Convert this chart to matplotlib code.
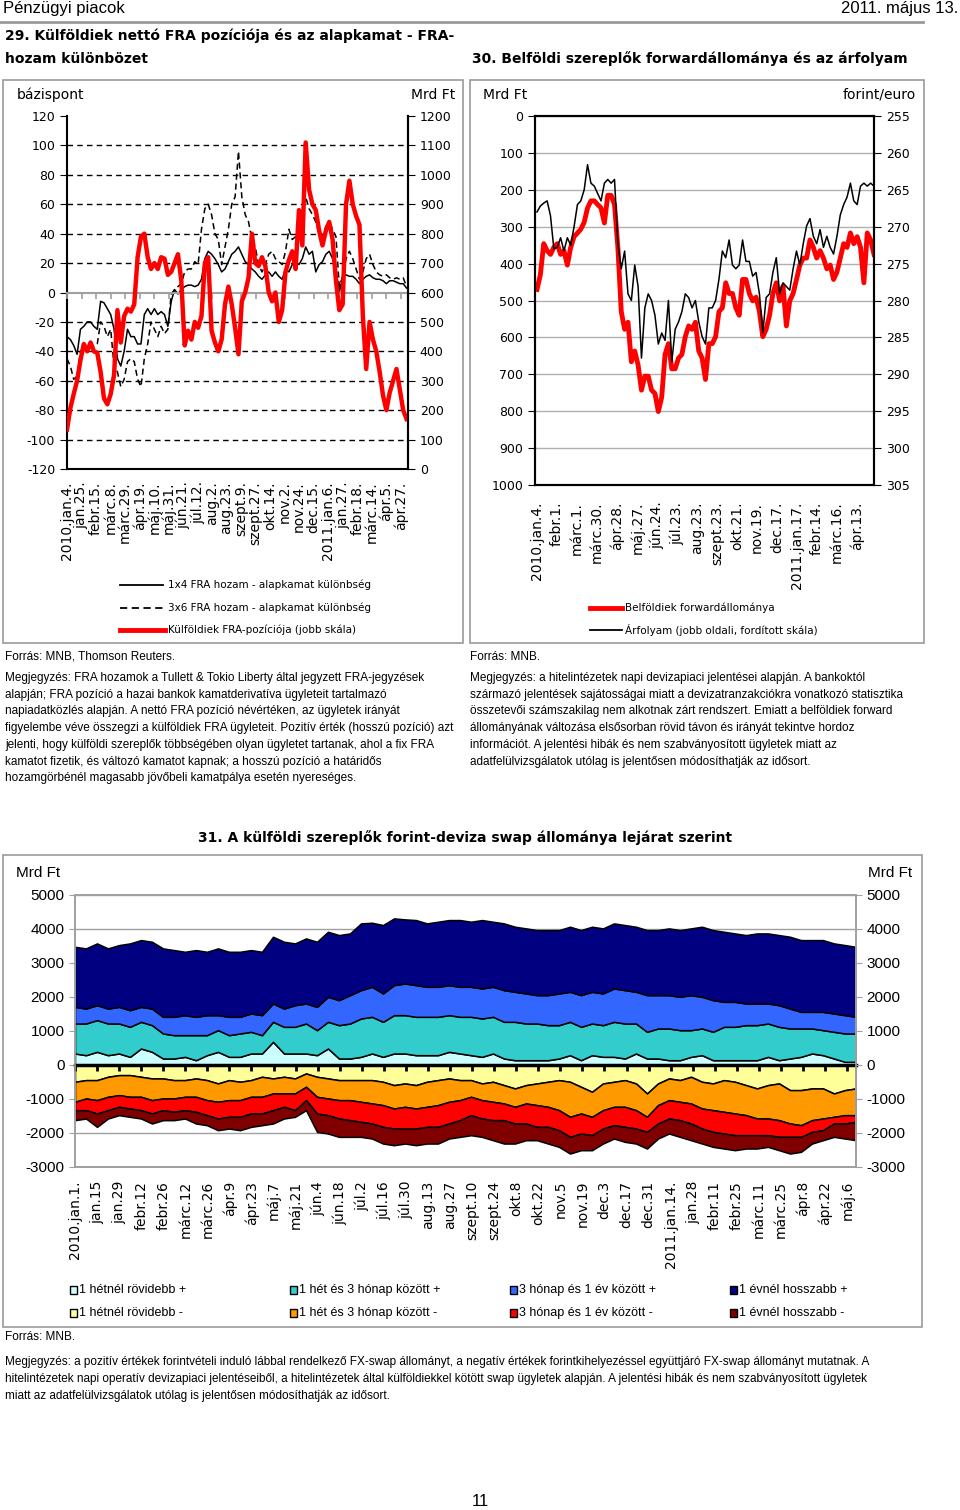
import numpy as np
import matplotlib
matplotlib.use('Agg')
import matplotlib.pyplot as plt
from matplotlib.lines import Line2D
from matplotlib.patches import Rectangle
from matplotlib import font_manager

plt.rcParams['axes.unicode_minus'] = False

# ---------------- data: chart 29 ----------------
c29_ticklabels = ['2010.jan.4.', 'jan.25.', 'febr.15.', 'márc.8.', 'márc.29.', 'ápr.19.',
                  'máj.10.', 'máj.31.', 'jún.21.', 'júl.12.', 'aug.2.', 'aug.23.', 'szept.9.',
                  'szept.27.', 'okt.14.', 'nov.2.', 'nov.24.', 'dec.15.', '2011.jan.6.',
                  'jan.27.', 'febr.18.', 'márc.14.', 'ápr.5.', 'ápr.27.']
fra_1x4 = [-30, -32, -36, -42, -25, -23, -20, -20, -23, -25,
           -6, -7, -11, -15, -25, -45, -50, -40, -25, -30,
           -30, -35, -35, -15, -11, -15, -11, -15, -13, -15,
           -23, -6, 2, -1, 2, 4, 5, 5, 4, 5,
           9, 23, 28, 26, 23, 19, 14, 16, 21, 26,
           28, 31, 26, 21, 19, 16, 14, 11, 9, 12,
           14, 11, 14, 11, 9, 16, 14, 19, 21, 19,
           23, 31, 26, 28, 14, 19, 21, 26, 28, 23,
           16, 0, 11, 12, 11, 11, 9, 6, 9, 11,
           12, 10, 9, 9, 8, 6, 8, 8, 7, 6,
           6, 3]
fra_3x6 = [-45, -50, -59, -57, -40, -37, -40, -35, -37, -35,
           -20, -23, -30, -25, -50, -54, -64, -59, -47, -45,
           -47, -59, -64, -45, -35, -20, -25, -30, -23, -28,
           -25, -1, 2, 4, 6, 14, 16, 16, 21, 19,
           43, 57, 60, 53, 40, 36, 19, 31, 43, 60,
           65, 96, 65, 53, 48, 36, 31, 19, 14, 19,
           26, 28, 23, 21, 19, 28, 43, 36, 38, 40,
           55, 65, 57, 53, 48, 40, 38, 45, 48, 43,
           38, 4, 11, 23, 28, 23, 16, 9, 14, 23,
           26, 19, 14, 12, 11, 12, 10, 9, 10, 9,
           10, 4]
fra_pos = [134, 207, 255, 300, 370, 425, 400, 430, 400, 395,
           330, 240, 220, 255, 320, 540, 430, 520, 545, 535,
           560, 720, 790, 800, 720, 680, 700, 680, 720, 715,
           660, 670, 700, 730, 640, 420, 470, 440, 500, 480,
           520, 700, 720, 470, 430, 400, 440, 560, 620, 560,
           480, 390, 570, 600, 650, 800, 700, 690, 720, 690,
           600, 570, 600, 500, 540, 670, 710, 740, 680, 880,
           760, 1110, 950, 900, 880, 810, 760, 810, 840, 780,
           640, 540, 560, 900, 980, 900, 860, 830, 520, 340,
           500, 440, 400, 330, 250, 200, 260, 300, 340, 270,
           200, 170]

# ---------------- data: chart 30 ----------------
c30_ticklabels = ['2010.jan.4.', 'febr.1.', 'márc.1.', 'márc.30.', 'ápr.28.', 'máj.27.',
                  'jún.24.', 'júl.23.', 'aug.23.', 'szept.23.', 'okt.21.', 'nov.19.',
                  'dec.17.', '2011.jan.17.', 'febr.14.', 'márc.16.', 'ápr.13.']
fwd_stock = [470, 430, 346, 365, 375, 356, 346, 375, 365, 404,
             356, 327, 317, 307, 288, 249, 230, 230, 240, 249,
             290, 215, 215, 240, 356, 530, 578, 559, 666, 637,
             675, 743, 705, 705, 743, 752, 801, 762, 646, 617,
             685, 685, 656, 646, 598, 569, 578, 559, 637, 656,
             714, 617, 617, 598, 530, 520, 452, 481, 481, 520,
             540, 443, 443, 481, 501, 491, 530, 598, 578, 540,
             481, 452, 501, 461, 569, 501, 481, 443, 404, 385,
             385, 336, 356, 385, 365, 385, 414, 404, 443, 423,
             385, 346, 356, 317, 346, 327, 356, 452, 317, 336,
             375]
eurhuf = [268.0, 267.2, 266.8, 266.5, 268.5, 273.0, 272.8, 271.5, 273.3, 271.5,
          272.5, 270.0, 267.0, 266.5, 265.0, 261.6, 264.1, 264.5, 265.5, 266.5,
          264.1, 263.6, 264.1, 263.6, 272.3, 275.7, 273.3, 279.1, 280.0, 275.2,
          278.1, 287.8, 281.0, 279.1, 280.0, 282.0, 285.9, 284.4, 285.4, 280.0,
          288.3, 283.9, 282.9, 281.5, 279.1, 279.6, 281.0, 280.0, 282.9, 284.9,
          285.9, 281.0, 281.0, 280.0, 277.1, 273.3, 274.2, 271.8, 275.2, 275.7,
          275.2, 271.8, 274.7, 274.7, 276.7, 276.2, 279.1, 284.4, 279.6, 279.1,
          276.2, 274.2, 279.1, 277.6, 278.1, 278.6, 275.7, 273.3, 275.2, 272.3,
          269.9, 268.9, 271.3, 272.3, 270.4, 272.8, 271.3, 272.8, 273.7, 271.3,
          268.4, 267.0, 266.0, 264.1, 266.5, 267.0, 264.5, 264.1, 264.5, 264.1,
          264.5]

# ---------------- data: chart 31 (cumulative edges, Mrd Ft) ----------------
c31_ticklabels = ['2010.jan.1.', 'jan.15', 'jan.29', 'febr.12', 'febr.26', 'márc.12',
                  'márc.26', 'ápr.9', 'ápr.23', 'máj.7', 'máj.21', 'jún.4', 'jún.18',
                  'júl.2', 'júl.16', 'júl.30', 'aug.13', 'aug.27', 'szept.10', 'szept.24',
                  'okt.8', 'okt.22', 'nov.5', 'nov.19', 'dec.3', 'dec.17', 'dec.31',
                  '2011.jan.14.', 'jan.28', 'febr.11', 'febr.25', 'márc.11', 'márc.25',
                  'ápr.8', 'ápr.22', 'máj.6']
edge_lt1w_pos = [338, 289, 387, 289, 338, 240, 485, 387, 191, 191, 240, 141, 289, 387, 240, 240, 338, 338,
                 682, 338, 338, 338, 289, 485, 191, 191, 240, 338, 240, 338, 338, 289, 289, 289, 387, 338,
                 289, 240, 338, 191, 141, 141, 141, 141, 191, 289, 141, 289, 240, 240, 191, 338, 191, 191,
                 141, 141, 240, 289, 141, 141, 141, 141, 141, 240, 141, 191, 240, 338, 289, 191, 93, 93]
edge_1w3m_pos = [1220, 1220, 1320, 1220, 1220, 1123, 1270, 1172, 927, 878, 878, 878, 878, 1025, 878, 927, 976, 878,
                 1270, 1123, 1123, 1220, 1025, 1270, 1172, 1220, 1368, 1417, 1270, 1466, 1466, 1417, 1417, 1417, 1466, 1417,
                 1417, 1368, 1417, 1270, 1270, 1220, 1220, 1172, 1172, 1270, 1123, 1220, 1172, 1270, 1220, 1220, 976, 1074,
                 1074, 1025, 1025, 1074, 976, 1123, 1123, 1172, 1172, 1220, 1123, 1074, 1074, 1074, 1025, 976, 927, 927]
edge_3m1y_pos = [1710, 1660, 1760, 1660, 1710, 1613, 1710, 1660, 1417, 1417, 1466, 1417, 1466, 1466, 1417, 1417, 1515, 1466,
                 1809, 1660, 1760, 1809, 1710, 2006, 1907, 2055, 2202, 2300, 2104, 2349, 2398, 2349, 2300, 2300, 2349, 2300,
                 2300, 2251, 2300, 2202, 2153, 2104, 2055, 2055, 2104, 2153, 2055, 2153, 2104, 2251, 2202, 2153, 2055, 2055,
                 2055, 2006, 2055, 2006, 1907, 1858, 1858, 1809, 1809, 1809, 1760, 1660, 1564, 1564, 1564, 1515, 1466, 1417]
edge_gt1y_pos = [3476, 3430, 3576, 3430, 3527, 3576, 3674, 3625, 3430, 3380, 3330, 3380, 3330, 3430, 3330, 3330, 3380, 3330,
                 3772, 3625, 3576, 3723, 3625, 3919, 3821, 3870, 4165, 4184, 4116, 4312, 4283, 4263, 4165, 4214, 4263, 4263,
                 4214, 4263, 4214, 4165, 4067, 4018, 3968, 3968, 3968, 4067, 3968, 4067, 4018, 4165, 4116, 4067, 3968, 3968,
                 4018, 3968, 4018, 4067, 3968, 3919, 3870, 3821, 3870, 3870, 3821, 3772, 3674, 3674, 3674, 3576, 3527, 3476]
edge_lt1w_neg = [-494, -445, -445, -347, -298, -298, -347, -396, -396, -445, -445, -396, -445, -543, -445, -494, -445, -347,
                 -396, -347, -396, -249, -347, -396, -445, -445, -445, -445, -494, -592, -543, -592, -494, -445, -396, -445,
                 -445, -543, -494, -592, -690, -592, -543, -494, -445, -494, -641, -788, -543, -494, -445, -543, -838, -543,
                 -396, -445, -347, -494, -543, -445, -494, -592, -690, -592, -543, -739, -739, -690, -690, -838, -739, -690]
edge_1w3m_neg = [-1083, -985, -1034, -936, -887, -936, -936, -1034, -985, -985, -936, -936, -1034, -1083, -1034, -1034, -936, -936,
                 -838, -838, -838, -642, -936, -985, -1034, -1034, -1083, -1132, -1181, -1280, -1231, -1280, -1231, -1181, -1083, -1034,
                 -936, -1034, -1083, -1132, -1231, -1132, -1181, -1231, -1329, -1525, -1427, -1525, -1329, -1231, -1231, -1329, -1525, -1181,
                 -1034, -1083, -1132, -1280, -1329, -1378, -1427, -1476, -1574, -1574, -1623, -1721, -1771, -1623, -1574, -1525, -1476, -1476]
edge_3m1y_neg = [-1329, -1329, -1427, -1329, -1231, -1280, -1329, -1427, -1329, -1378, -1329, -1378, -1476, -1574, -1525, -1525, -1427, -1427,
                 -1329, -1231, -1329, -1034, -1427, -1476, -1574, -1623, -1672, -1721, -1820, -1869, -1869, -1869, -1820, -1820, -1721, -1623,
                 -1476, -1574, -1623, -1623, -1721, -1721, -1820, -1820, -1918, -2114, -2016, -2065, -1869, -1771, -1820, -1869, -1967, -1721,
                 -1574, -1623, -1721, -1869, -1967, -2016, -2065, -2065, -2065, -2065, -2114, -2114, -2114, -1967, -1918, -1721, -1721, -1672]
edge_gt1y_neg = [-1623, -1574, -1820, -1574, -1476, -1525, -1574, -1721, -1623, -1623, -1574, -1721, -1771, -1918, -1869, -1918, -1820, -1771,
                 -1721, -1574, -1525, -1329, -1967, -2016, -2114, -2114, -2114, -2163, -2310, -2359, -2310, -2359, -2310, -2310, -2163, -2114,
                 -2065, -2114, -2212, -2310, -2310, -2212, -2212, -2310, -2408, -2604, -2506, -2506, -2310, -2163, -2261, -2310, -2457, -2163,
                 -2016, -2114, -2212, -2310, -2408, -2457, -2506, -2457, -2457, -2408, -2506, -2604, -2555, -2310, -2212, -2114, -2163, -2212]
c31_labels_pos = ['1 hétnél rövidebb +', '1 hét és 3 hónap között +', '3 hónap és 1 év között +', '1 évnél hosszabb +']
c31_labels_neg = ['1 hétnél rövidebb -', '1 hét és 3 hónap között -', '3 hónap és 1 év között -', '1 évnél hosszabb -']
c31_colors_pos = ['#ccffff', '#33cccc', '#3366ff', '#000080']
c31_colors_neg = ['#ffff99', '#ff9900', '#ff0000', '#800000']

# ---------------- helpers ----------------
W, H = 960, 1510
fig = plt.figure(figsize=(W / 100, H / 100), dpi=100)
avail = {f.name for f in font_manager.fontManager.ttflist}
NARROW = 'Liberation Sans Narrow' if 'Liberation Sans Narrow' in avail else 'Liberation Sans'
SANS = 'DejaVu Sans'


def fx(x):
    return x / W


def fy(y):
    return 1 - y / H


def axrect(l, t, r, b):
    return [l / W, 1 - b / H, (r - l) / W, (b - t) / H]


def T(x, y, s, **kw):
    kw.setdefault('va', 'center')
    fig.text(fx(x), fy(y), s, **kw)


def hline(x0, x1, y, **kw):
    fig.add_artist(Line2D([fx(x0), fx(x1)], [fy(y), fy(y)], transform=fig.transFigure, **kw))


def box(x0, y0, x1, y1, **kw):
    fig.add_artist(Rectangle((fx(x0), fy(y1)), fx(x1) - fx(x0), fy(y0) - fy(y1),
                             transform=fig.transFigure, fill=False, **kw))


# ---------------- header ----------------
T(3, 9, 'Pénzügyi piacok', fontsize=12, family=NARROW)
T(958, 9, '2011. május 13.', fontsize=12, family=NARROW, ha='right')
hline(0, 923, 22, color='#999999', lw=2)
T(5, 36, '29. Külföldiek nettó FRA pozíciója és az alapkamat - FRA-', fontsize=10,
  family=SANS, weight='bold')
T(5, 59, 'hozam különbözet', fontsize=10, family=SANS, weight='bold')
T(472, 59, '30. Belföldi szereplők forwardállománya és az árfolyam', fontsize=10,
  family=SANS, weight='bold')

box(3, 80, 463, 643, color='#999999', lw=1.2)
box(470, 80, 924, 643, color='#999999', lw=1.2)

# ---------------- chart 29 ----------------
ax1 = fig.add_axes(axrect(67, 116, 408, 469))
x29 = np.linspace(0, 351, len(fra_pos))
ax1.set_xlim(0, 352.5)
ax1.set_ylim(-120, 120)
ax1.set_yticks(np.arange(-120, 121, 20))
for v in range(-100, 101, 20):
    if v != 0:
        ax1.axhline(v, color='black', ls=(0, (4, 3)), lw=1.0, zorder=0)
ax1.plot(x29, fra_1x4, color='black', lw=1.1)
ax1.plot(x29, fra_3x6, color='black', lw=1.1, ls=(0, (4, 2.5)))
tick29 = np.arange(len(c29_ticklabels)) * 15
ax1.set_xticks(tick29)
ax1.set_xticklabels(c29_ticklabels, rotation=90, fontsize=10, family=SANS)
ax1.tick_params(axis='x', length=0, pad=9)
ax1.tick_params(axis='y', direction='out', length=5, labelsize=9)
ax1.spines['top'].set_visible(False)
for s in ['left', 'right', 'bottom']:
    ax1.spines[s].set_linewidth(1.5)

axz = ax1.twiny()
axz.set_xlim(ax1.get_xlim())
axz.xaxis.set_ticks_position('bottom')
axz.spines['bottom'].set_position(('data', 0))
axz.spines['bottom'].set_color('#a0a0a0')
axz.spines['bottom'].set_linewidth(1.5)
for s in ['top', 'left', 'right']:
    axz.spines[s].set_visible(False)
axz.set_xticks(tick29)
axz.tick_params(axis='x', direction='out', length=4, color='#a0a0a0', width=1.2,
                labelbottom=False, labeltop=False, top=False)

ax1r = ax1.twinx()
ax1r.set_ylim(0, 1200)
ax1r.set_yticks(np.arange(0, 1201, 100))
ax1r.plot(x29, fra_pos, color='#ff0000', lw=3.2, solid_joinstyle='round')
ax1r.tick_params(axis='y', direction='out', length=5, labelsize=9)
for s in ['top', 'left', 'bottom']:
    ax1r.spines[s].set_visible(False)
ax1r.spines['right'].set_linewidth(1.5)

T(17, 95, 'bázispont', fontsize=10, family=SANS)
T(455, 95, 'Mrd Ft', fontsize=10, family=SANS, ha='right')

hline(120, 163, 585, color='black', lw=1.3)
hline(120, 163, 608, color='black', lw=1.3, ls=(0, (4, 2.5)))
hline(120, 165, 630, color='#ff0000', lw=3.5)
T(168, 585, '1x4 FRA hozam - alapkamat különbség', fontsize=7.5, family=SANS)
T(168, 608, '3x6 FRA hozam - alapkamat különbség', fontsize=7.5, family=SANS)
T(168, 630, 'Külföldiek FRA-pozíciója (jobb skála)', fontsize=7.5, family=SANS)

# ---------------- chart 30 ----------------
ax2 = fig.add_axes(axrect(535, 116, 874, 485))
x30 = np.linspace(0, 337, len(fwd_stock))
ax2.set_xlim(-2, 337)
ax2.set_ylim(1000, 0)
ax2.set_yticks(np.arange(0, 1001, 100))
ax2.grid(axis='y', color='#b0b0b0', lw=1.0)
ax2.set_axisbelow(True)
ax2.plot(x30, fwd_stock, color='#ff0000', lw=3.5, solid_joinstyle='round')
tick30 = np.arange(len(c30_ticklabels)) * 20
ax2.set_xticks(tick30)
ax2.set_xticklabels(c30_ticklabels, rotation=90, fontsize=10, family=SANS)
ax2.tick_params(axis='x', length=0, pad=12)
ax2.tick_params(axis='y', direction='out', length=5, labelsize=9)
for s in ax2.spines.values():
    s.set_linewidth(1.5)

ax2r = ax2.twinx()
ax2r.set_ylim(305, 255)
ax2r.set_yticks(np.arange(255, 306, 5))
ax2r.plot(x30, eurhuf, color='black', lw=1.1)
ax2r.tick_params(axis='y', direction='out', length=5, labelsize=9)
for s in ax2r.spines.values():
    s.set_linewidth(1.5)

T(483, 95, 'Mrd Ft', fontsize=10, family=SANS)
T(916, 95, 'forint/euro', fontsize=10, family=SANS, ha='right')
hline(590, 622, 608, color='#ff0000', lw=3.5)
hline(590, 622, 630, color='black', lw=1.3)
T(625, 608, 'Belföldiek forwardállománya', fontsize=7.5, family=SANS)
T(625, 630, 'Árfolyam (jobb oldali, fordított skála)', fontsize=7.5, family=SANS)

# ---------------- notes 29/30 ----------------
NFS = 8.5
T(5, 657, 'Forrás: MNB, Thomson Reuters.', fontsize=NFS, family=NARROW)
notes29 = ['Megjegyzés: FRA hozamok a Tullett & Tokio Liberty által jegyzett FRA-jegyzések',
           'alapján; FRA pozíció a hazai bankok kamatderivatíva ügyleteit tartalmazó',
           'napiadatközlés alapján. A nettó FRA pozíció névértéken, az ügyletek irányát',
           'figyelembe véve összegzi a külföldiek FRA ügyleteit. Pozitív érték (hosszú pozíció) azt',
           'jelenti, hogy külföldi szereplők többségében olyan ügyletet tartanak, ahol a fix FRA',
           'kamatot fizetik, és változó kamatot kapnak; a hosszú pozíció a határidős',
           'hozamgörbénél magasabb jövőbeli kamatpálya esetén nyereséges.']
for i, line in enumerate(notes29):
    T(5, 678 + i * 16.7, line, fontsize=NFS, family=NARROW)
T(470, 657, 'Forrás: MNB.', fontsize=NFS, family=NARROW)
notes30 = ['Megjegyzés: a hitelintézetek napi devizapiaci jelentései alapján. A bankoktól',
           'származó jelentések sajátosságai miatt a devizatranzakciókra vonatkozó statisztika',
           'összetevői számszakilag nem alkotnak zárt rendszert. Emiatt a belföldiek forward',
           'állományának változása elsősorban rövid távon és irányát tekintve hordoz',
           'információt. A jelentési hibák és nem szabványosított ügyletek miatt az',
           'adatfelülvizsgálatok utólag is jelentősen módosíthatják az idősort.']
for i, line in enumerate(notes30):
    T(470, 678 + i * 16.7, line, fontsize=NFS, family=NARROW)

# ---------------- chart 31 ----------------
T(465, 838, '31. A külföldi szereplők forint-deviza swap állománya lejárat szerint',
  fontsize=10, family=SANS, weight='bold', ha='center')
box(3, 855, 922, 1327, color='#999999', lw=1.2)

pos_edges = np.array([edge_lt1w_pos, edge_1w3m_pos, edge_3m1y_pos, edge_gt1y_pos], dtype=float)
neg_edges = np.array([edge_lt1w_neg, edge_1w3m_neg, edge_3m1y_neg, edge_gt1y_neg], dtype=float)
pos_series = np.diff(np.vstack([np.zeros(pos_edges.shape[1]), pos_edges]), axis=0)
neg_series = np.diff(np.vstack([np.zeros(neg_edges.shape[1]), neg_edges]), axis=0)

ax3 = fig.add_axes(axrect(75, 895, 856, 1167))
x31 = np.linspace(0, 354, pos_series.shape[1])
ax3.set_xlim(0, 354)
ax3.set_ylim(-3000, 5000)
ax3.set_yticks(np.arange(-3000, 5001, 1000))
ax3.grid(axis='y', color='#a0a0a0', lw=1.0)
ax3.set_axisbelow(True)
ax3.stackplot(x31, pos_series, colors=c31_colors_pos, edgecolor='black', linewidth=1.1)
ax3.stackplot(x31, neg_series, colors=c31_colors_neg, edgecolor='black', linewidth=1.1)
tick31 = np.arange(len(c31_ticklabels)) * 10
ax3.set_xticks(tick31)
ax3.set_xticklabels(c31_ticklabels, rotation=90, fontsize=10, family=SANS)
ax3.tick_params(axis='x', length=0, pad=10)
ax3.tick_params(axis='y', direction='out', length=4, color='#a0a0a0')
for lab in ax3.get_yticklabels():
    lab.set_family(NARROW)
    lab.set_fontsize(11)
for s in ax3.spines.values():
    s.set_color('#a0a0a0')
    s.set_linewidth(1.2)

axz3 = ax3.twiny()
axz3.set_xlim(ax3.get_xlim())
axz3.xaxis.set_ticks_position('bottom')
axz3.spines['bottom'].set_position(('data', 0))
axz3.spines['bottom'].set_color('black')
axz3.spines['bottom'].set_linewidth(2.5)
for s in ['top', 'left', 'right']:
    axz3.spines[s].set_visible(False)
axz3.set_xticks(tick31)
axz3.tick_params(axis='x', direction='out', length=4, width=2, color='black',
                 labelbottom=False, labeltop=False, top=False)

ax3r = ax3.twinx()
ax3r.set_ylim(-3000, 5000)
ax3r.set_yticks(np.arange(-3000, 5001, 1000))
ax3r.tick_params(axis='y', direction='out', length=4, color='#a0a0a0')
for lab in ax3r.get_yticklabels():
    lab.set_family(NARROW)
    lab.set_fontsize(11)
for s in ax3r.spines.values():
    s.set_color('#a0a0a0')
    s.set_linewidth(1.2)

T(16, 873, 'Mrd Ft', fontsize=11, family=NARROW)
T(868, 873, 'Mrd Ft', fontsize=11, family=NARROW)

leg_x = [70, 290, 510, 730]
for i in range(4):
    for row, (labs, cols) in enumerate([(c31_labels_pos, c31_colors_pos), (c31_labels_neg, c31_colors_neg)]):
        yy = 1290 + row * 23
        fig.add_artist(Rectangle((fx(leg_x[i]), fy(yy + 4)), 7 / W, 8 / H, transform=fig.transFigure,
                                 facecolor=cols[i], edgecolor='black', lw=1.0))
        T(leg_x[i] + 9, yy, labs[i], fontsize=9, family=NARROW)

T(5, 1337, 'Forrás: MNB.', fontsize=NFS, family=NARROW)
notes31 = ['Megjegyzés: a pozitív értékek forintvételi induló lábbal rendelkező FX-swap állományt, a negatív értékek forintkihelyezéssel együttjáró FX-swap állományt mutatnak. A',
           'hitelintézetek napi operatív devizapiaci jelentéseiből, a hitelintézetek által külföldiekkel kötött swap ügyletek alapján. A jelentési hibák és nem szabványosított ügyletek',
           'miatt az adatfelülvizsgálatok utólag is jelentősen módosíthatják az idősort.']
for i, line in enumerate(notes31):
    T(5, 1362 + i * 17, line, fontsize=NFS, family=NARROW)

T(480, 1502, '11', fontsize=12, family=NARROW, ha='center')

fig.savefig('out.png', dpi=100)
